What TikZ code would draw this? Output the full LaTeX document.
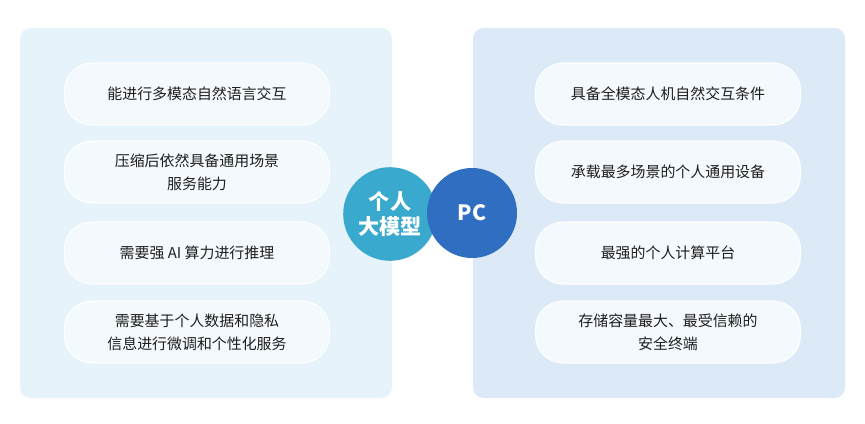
\documentclass[tikz,border=0pt]{standalone}
\usepackage{fontspec}
\setmainfont{Noto Sans CJK SC}
\usetikzlibrary{positioning}
\definecolor{panelL}{HTML}{E6F3FA}
\definecolor{panelR}{HTML}{DCEAF8}
\definecolor{pillbg}{HTML}{F4F9FD}
\definecolor{circL}{HTML}{3AA9CE}
\definecolor{circR}{HTML}{2F6EC0}
\definecolor{txt}{HTML}{1E1E1E}
\tikzset{
  pill/.style={fill=pillbg, rounded corners=28pt*0.56, minimum width=265*0.02cm, minimum height=62*0.02cm, align=center, text=txt, font=\fontsize{8.5}{13}\selectfont, draw=white, line width=0.6pt},
  ball/.style={circle, text=white, align=center, font=\fontsize{12}{14}\selectfont\bfseries}
}
\begin{document}
\begin{tikzpicture}[x=0.02cm, y=-0.02cm]
			\useasboundingbox (0,0) rectangle (865,423);
			\fill[white] (0,0) rectangle (865,423);
			\fill[panelL, rounded corners=6pt] (20,28) rectangle (392,398);
			\fill[panelR, rounded corners=6pt] (473,28) rectangle (845,398);
			
			\node[pill] (l1) at (197,94) {能进行多模态自然语言交互};
			\node[pill] (l2) at (197,172) {压缩后依然具备通用场景\\服务能力};
			\node[pill] (l3) at (197,253) {需要强 AI 算力进行推理};
			\node[pill] (l4) at (197,332) {需要基于个人数据和隐私\\信息进行微调和个性化服务};
			
			\node[pill] (r1) at (668,94) {具备全模态人机自然交互条件};
			\node[pill] (r2) at (668,172) {承载最多场景的个人通用设备};
			\node[pill] (r3) at (668,253) {最强的个人计算平台};
			\node[pill] (r4) at (668,332) {存储容量最大、最受信赖的\\安全终端};
			
			\node[ball, fill=circL, minimum size=86*0.02cm] (llm) at (390,214) {个人\\大模型};
			\node[ball, fill=circR, minimum size=90*0.02cm] (pc) at (472,213) {PC};
\end{tikzpicture}
\end{document}
